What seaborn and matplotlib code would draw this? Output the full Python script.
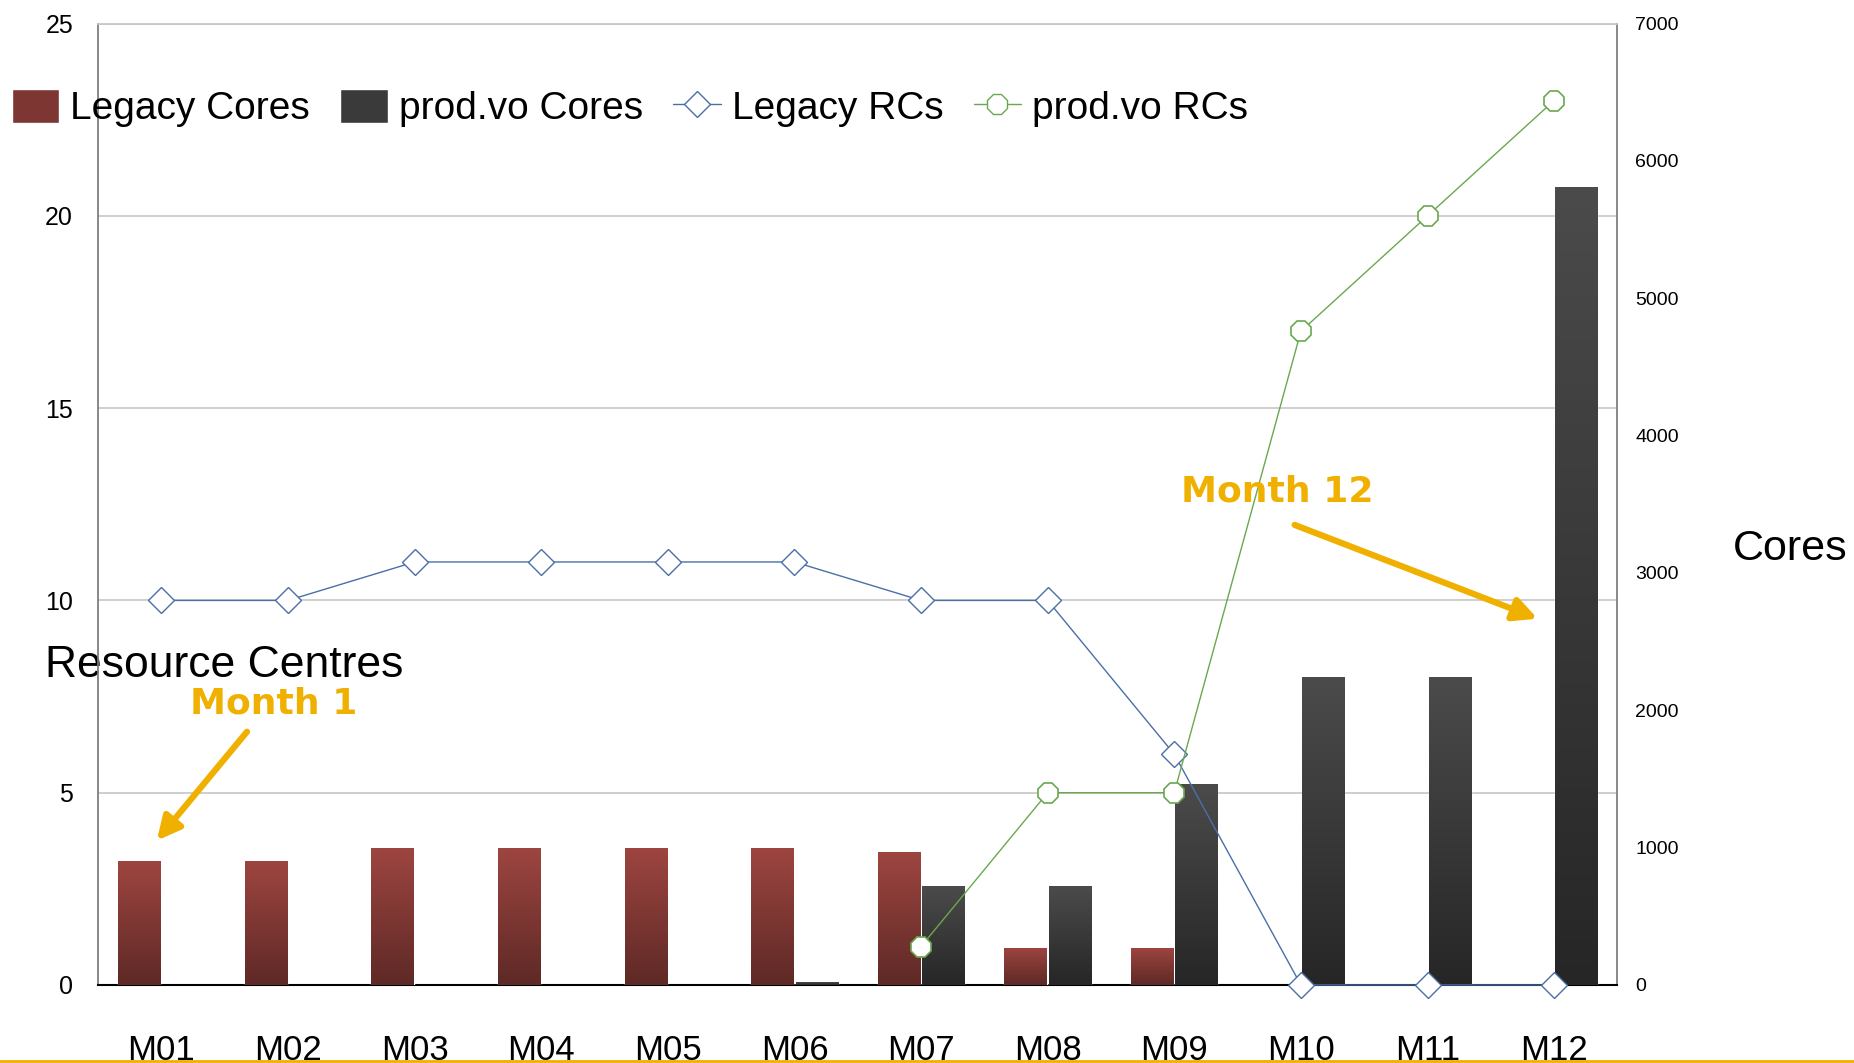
import numpy as np
import pandas as pd
import matplotlib
matplotlib.use('Agg')
import matplotlib.pyplot as plt
import seaborn as sns
from matplotlib.colors import LinearSegmentedColormap
from matplotlib.patches import Patch
from matplotlib.lines import Line2D

months = ['M01', 'M02', 'M03', 'M04', 'M05', 'M06', 'M07', 'M08', 'M09', 'M10', 'M11', 'M12']
legacy_cores = [900, 900, 1000, 1000, 1000, 1000, 970, 270, 270, np.nan, np.nan, np.nan]
prodvo_cores = [np.nan, np.nan, np.nan, np.nan, np.nan, 20, 720, 720, 1460, 2240, 2240, 5810]
legacy_rcs = [10, 10, 11, 11, 11, 11, 10, 10, 6, 0, 0, 0]
prodvo_rcs = [np.nan, np.nan, np.nan, np.nan, np.nan, np.nan, 1, 5, 5, 17, 20, 23]

ORANGE = '#f0b000'
BLUE = '#4a6fa8'
GREEN = '#6aa84f'

sns.set_theme(style='white')
plt.rcParams['font.family'] = ['Liberation Sans', 'DejaVu Sans']
plt.rcParams['text.color'] = 'black'
plt.rcParams['xtick.color'] = 'black'
plt.rcParams['ytick.color'] = 'black'
plt.rcParams['axes.labelcolor'] = 'black'

fig = plt.figure(figsize=(18.54, 10.63), dpi=100)
ax = fig.add_axes([0.0529, 0.0734, 0.8195, 0.9044])
ax2 = ax.twinx()   # cores (bars)
ax3 = ax.twinx()   # resource centres (lines), drawn on top

cores = pd.DataFrame({
    'month': months * 2,
    'cores': legacy_cores + prodvo_cores,
    'series': ['Legacy Cores'] * 12 + ['prod.vo Cores'] * 12,
})
sns.barplot(data=cores, x='month', y='cores', hue='series', ax=ax2,
            palette=['#7d3632', '#3a3a3a'], width=0.7, gap=0.05,
            legend=False, saturation=1)

# vertical gradient fill, one per bar
grads = [('#5e2926', '#9e4540'), ('#262626', '#4b4b4b')]
g = np.linspace(0, 1, 256).reshape(-1, 1)
for cont, (lo, hi) in zip(ax2.containers, grads):
    cmap = LinearSegmentedColormap.from_list('', [lo, hi])
    for bar in cont:
        h = bar.get_height()
        if not np.isfinite(h) or h <= 0:
            continue
        x0, y0 = bar.get_xy()
        im = ax2.imshow(g, extent=[x0, x0 + bar.get_width(), y0, y0 + h],
                        origin='lower', aspect='auto', cmap=cmap,
                        zorder=bar.get_zorder() + 0.1)
        im.set_clip_path(bar)

x = np.arange(len(months))
sns.lineplot(x=x, y=legacy_rcs, ax=ax3, color=BLUE, lw=1, marker='D',
             markersize=13, markerfacecolor='white', markeredgecolor=BLUE,
             markeredgewidth=1, clip_on=False)
sns.lineplot(x=x, y=prodvo_rcs, ax=ax3, color=GREEN, lw=1, marker='8',
             markersize=16, markerfacecolor='white', markeredgecolor=GREEN,
             markeredgewidth=1.2, clip_on=False)

for a in (ax, ax2, ax3):
    a.set_xlim(-0.5, 11.5)
ax.set_ylim(0, 25)
ax3.set_ylim(0, 25)
ax2.set_ylim(0, 7000)

ax.set_yticks([0, 5, 10, 15, 20, 25])
ax.yaxis.grid(True, color='#c6c6c6', lw=1.2)
ax.tick_params(axis='y', length=0, pad=18, labelsize=18)
ax.set_xticks(x, months)
ax.tick_params(axis='x', length=0, pad=35, labelsize=25)

ax2.set_yticks(range(0, 7001, 1000))
ax2.tick_params(axis='y', length=0, pad=13, labelsize=14)
ax2.set_xlabel('')
ax3.yaxis.set_visible(False)
ax3.set_xlabel('')

for a in (ax2, ax3):
    for s in a.spines.values():
        s.set_visible(False)
ax.spines['top'].set_color('#c6c6c6')
ax.spines['left'].set_color('#7a7a7a')
ax.spines['right'].set_color('#7a7a7a')
ax.spines['bottom'].set_color('#000000')
ax.spines['bottom'].set_linewidth(1.5)

ax.set_ylabel('Resource Centres', rotation=0, ha='left', va='center', fontsize=32)
ax.yaxis.set_label_coords(-0.035, 0.332)
ax2.set_ylabel('Cores', rotation=0, ha='left', va='center', fontsize=31)
ax2.yaxis.set_label_coords(1.076, 0.4535)

# annotations
ax3.annotate('', xy=(-0.05, 3.7), xytext=(0.69, 6.64),
             arrowprops=dict(arrowstyle='-|>', color=ORANGE, lw=4.5, mutation_scale=35),
             annotation_clip=False)
ax3.text(0.89, 7.32, 'Month 1', color=ORANGE, fontsize=26, fontweight='bold',
         family='DejaVu Sans', ha='center', va='center')
ax3.annotate('', xy=(10.89, 9.5), xytext=(8.93, 11.99),
             arrowprops=dict(arrowstyle='-|>', color=ORANGE, lw=4.5, mutation_scale=35))
ax3.text(8.81, 12.82, 'Month 12', color=ORANGE, fontsize=26, fontweight='bold',
         family='DejaVu Sans', ha='center', va='center')

handles = [
    Patch(facecolor='#7d3632'),
    Patch(facecolor='#3a3a3a'),
    Line2D([], [], color=BLUE, lw=1, marker='D', markersize=13,
           markerfacecolor='white', markeredgecolor=BLUE),
    Line2D([], [], color=GREEN, lw=1, marker='8', markersize=16,
           markerfacecolor='white', markeredgecolor=GREEN),
]
labels = ['Legacy Cores', 'prod.vo Cores', 'Legacy RCs', 'prod.vo RCs']
fig.legend(handles, labels, loc='center left', bbox_to_anchor=(0.0065, 0.898),
           ncol=4, frameon=False, borderpad=0, borderaxespad=0,
           handlelength=1.22, handleheight=0.95,
           handletextpad=0.28, columnspacing=0.78, fontsize=28)

fig.add_artist(Line2D([0, 1], [0.002, 0.002], transform=fig.transFigure,
                      color=ORANGE, lw=2))

fig.savefig('out.png', dpi=100)
